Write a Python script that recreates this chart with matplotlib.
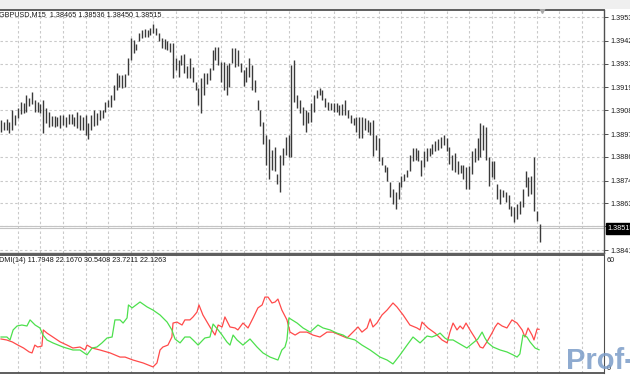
import matplotlib
matplotlib.use('Agg')
import matplotlib.pyplot as plt
import matplotlib.transforms as mtransforms
from matplotlib.patches import Rectangle
import numpy as np

plt.rcParams['font.family'] = ['Liberation Sans', 'DejaVu Sans']

# GBPUSD M15 bars (one row = one grid cell of 8 bars)
highs = [
    1.39040, 1.39030, 1.39045, 1.39030, 1.39088, 1.39064, 1.39098, 1.39126,
    1.39122, 1.39160, 1.39146, 1.39174, 1.39136, 1.39126, 1.39117, 1.39136,
    1.39098, 1.39078, 1.39059, 1.39059, 1.39054, 1.39064, 1.39064, 1.39054,
    1.39069, 1.39069, 1.39054, 1.39078, 1.39064, 1.39054, 1.39064, 1.39025,
    1.39064, 1.39088, 1.39073, 1.39088, 1.39088, 1.39126, 1.39136, 1.39160,
    1.39208, 1.39266, 1.39256, 1.39256, 1.39261, 1.39338, 1.39434, 1.39425,
    1.39405, 1.39458, 1.39473, 1.39478, 1.39473, 1.39482, 1.39502, 1.39482,
    1.39458, 1.39434, 1.39429, 1.39420, 1.39410, 1.39410, 1.39338, 1.39328,
    1.39352, 1.39357, 1.39300, 1.39338, 1.39295, 1.39223, 1.39194, 1.39242,
    1.39266, 1.39266, 1.39290, 1.39376, 1.39391, 1.39391, 1.39319, 1.39319,
    1.39304, 1.39314, 1.39386, 1.39386, 1.39376, 1.39314, 1.39280, 1.39295,
    1.39338, 1.39304, 1.39232, 1.39136, 1.39088, 1.39030, 1.38968, 1.38944,
    1.38895, 1.38910, 1.38775, 1.38871, 1.38905, 1.38958, 1.38968, 1.39304,
    1.39328, 1.39160, 1.39136, 1.39102, 1.39088, 1.39078, 1.39122, 1.39160,
    1.39184, 1.39194, 1.39184, 1.39146, 1.39126, 1.39122, 1.39122, 1.39122,
    1.39112, 1.39117, 1.39136, 1.39088, 1.39064, 1.39049, 1.39054, 1.39054,
    1.39054, 1.39049, 1.39040, 1.39030, 1.39040, 1.38968, 1.38953, 1.38857,
    1.38819, 1.38809, 1.38737, 1.38703, 1.38689, 1.38737, 1.38770, 1.38775,
    1.38799, 1.38871, 1.38905, 1.38905, 1.38895, 1.38847, 1.38886, 1.38905,
    1.38905, 1.38920, 1.38939, 1.38948, 1.38958, 1.38968, 1.38953, 1.38910,
    1.38867, 1.38881, 1.38838, 1.38823, 1.38819, 1.38809, 1.38814, 1.38886,
    1.38905, 1.38953, 1.39025, 1.39016, 1.39006, 1.38857, 1.38838, 1.38838,
    1.38727, 1.38703, 1.38698, 1.38689, 1.38674, 1.38621, 1.38617, 1.38631,
    1.38645, 1.38703, 1.38790, 1.38761, 1.38770, 1.38857, 1.38597, 1.38536,
]
lows = [
    1.38982, 1.38992, 1.38992, 1.38977, 1.38992, 1.39016, 1.39049, 1.39069,
    1.39073, 1.39078, 1.39107, 1.39117, 1.39078, 1.39078, 1.39073, 1.38977,
    1.39025, 1.39006, 1.39011, 1.39006, 1.39011, 1.39001, 1.39016, 1.39006,
    1.39021, 1.39021, 1.39011, 1.39001, 1.38992, 1.38992, 1.38968, 1.38944,
    1.38992, 1.39011, 1.39016, 1.39040, 1.39049, 1.39078, 1.39102, 1.39102,
    1.39136, 1.39184, 1.39199, 1.39194, 1.39199, 1.39256, 1.39328, 1.39362,
    1.39376, 1.39420, 1.39434, 1.39439, 1.39439, 1.39449, 1.39458, 1.39449,
    1.39420, 1.39386, 1.39381, 1.39376, 1.39367, 1.39242, 1.39280, 1.39247,
    1.39304, 1.39266, 1.39242, 1.39242, 1.39223, 1.39184, 1.39112, 1.39073,
    1.39160, 1.39213, 1.39232, 1.39280, 1.39328, 1.39304, 1.39223, 1.39184,
    1.39160, 1.39199, 1.39314, 1.39295, 1.39300, 1.39271, 1.39203, 1.39223,
    1.39247, 1.39184, 1.39174, 1.39088, 1.39011, 1.38920, 1.38823, 1.38751,
    1.38799, 1.38790, 1.38727, 1.38689, 1.38823, 1.38871, 1.38857, 1.38857,
    1.39126, 1.39098, 1.39073, 1.39016, 1.38982, 1.39025, 1.39030, 1.39078,
    1.39146, 1.39160, 1.39136, 1.39102, 1.39088, 1.39088, 1.39078, 1.39078,
    1.39064, 1.39064, 1.39064, 1.39049, 1.39025, 1.39016, 1.38982, 1.38953,
    1.38953, 1.38992, 1.38982, 1.38968, 1.38862, 1.38895, 1.38838, 1.38823,
    1.38785, 1.38742, 1.38665, 1.38631, 1.38607, 1.38655, 1.38713, 1.38742,
    1.38761, 1.38790, 1.38838, 1.38847, 1.38838, 1.38766, 1.38809, 1.38838,
    1.38862, 1.38876, 1.38886, 1.38895, 1.38905, 1.38915, 1.38886, 1.38828,
    1.38799, 1.38785, 1.38775, 1.38780, 1.38751, 1.38703, 1.38703, 1.38775,
    1.38833, 1.38847, 1.38857, 1.38895, 1.38847, 1.38718, 1.38761, 1.38751,
    1.38655, 1.38631, 1.38665, 1.38641, 1.38607, 1.38573, 1.38544, 1.38559,
    1.38583, 1.38617, 1.38713, 1.38669, 1.38679, 1.38597, 1.38549, 1.38450,
]

price_ticks = [1.39535, 1.39420, 1.39310, 1.39195, 1.39085, 1.38970,
               1.38860, 1.38745, 1.38635, 1.38525, 1.38410]
price_labels = ['1.39535', '1.39420', '1.39310', '1.39195', '1.39085', '1.38970',
                '1.38860', '1.38745', '1.38635', '', '1.38410']
bid = 1.38515
header = 'GBPUSD,M15  1.38465 1.38536 1.38450 1.38515'
dmi_header = 'DMI(14) 11.7948 22.1670 30.5408 23.7211 22.1263'

# DMI lines as (bar, value) vertices
plus_di = [
    (0, 18.3), (2.1, 18.3), (3.2, 16.8), (4.3, 21.9), (5.7, 23.9), (7.4, 24.4),
    (9.2, 23.9), (10.3, 27.0), (12.1, 24.4), (13.8, 22.9), (14.9, 19.3), (16.3, 16.8),
    (18.4, 15.3), (22, 13.2), (25.5, 11.7), (28, 11.7), (30.5, 9.2), (32.3, 12.7),
    (34, 13.2), (35.8, 15.3), (37.6, 17.8), (39.4, 18.3), (40.4, 27.0), (42.2, 27.0),
    (43.3, 25.4), (44.7, 28.0), (45.2, 34.6), (46.5, 33.1), (49.3, 36.1), (51.8, 33.6),
    (53.9, 32.0), (56.4, 29.5), (58.9, 25.9), (60.6, 21.9), (61.7, 17.3), (63.5, 15.3),
    (65.2, 18.3), (67, 18.3), (68.1, 16.8), (69.9, 14.2), (71.6, 16.8), (72.3, 17.8),
    (74.1, 18.3), (75.2, 24.9), (77, 21.9), (78.4, 19.3), (80.1, 15.8), (81.2, 14.2),
    (82.3, 19.3), (83.7, 16.8), (85.8, 14.2), (88.3, 17.3), (90.8, 13.2), (92.9, 10.2),
    (95.4, 8.1), (98.2, 6.6), (99.6, 11.7), (100.7, 13.2), (101.4, 16.8), (102.1, 28.0),
    (105, 25.4), (107.1, 22.9), (109.6, 20.8), (112.4, 24.4), (114.2, 22.9), (116.7, 21.9),
    (119.1, 20.3), (121.3, 19.3), (123, 17.8), (125.5, 16.8), (128, 14.2), (130.9, 11.7),
    (134.4, 8.1), (136.9, 6.6), (139, 4.6), (141.5, 9.2), (144, 14.2), (146.1, 18.3),
    (148.6, 15.3), (151.1, 18.8), (152.8, 18.3), (154.6, 19.3), (155.7, 20.3), (157.4, 17.8),
    (158.5, 16.8), (160.3, 16.8), (162.8, 14.7), (165.2, 12.7), (167.4, 15.3), (169.1, 17.3),
    (170.6, 20.8), (171.6, 17.8), (172.7, 15.3), (174.5, 13.2), (177, 11.7), (179.4, 10.7),
    (181.6, 9.2), (183, 8.1), (184, 9.7), (185.1, 19.3), (186.5, 18.3), (187.6, 15.8),
    (189.4, 12.7), (190.8, 11.8),
]
minus_di = [
    (0, 17.3), (2, 16.8), (4, 15.8), (6, 14.2), (8, 12.7), (10, 10.7), (11, 10.2),
    (12, 14.2), (13, 13.2), (14.5, 13.7), (15, 21.9), (16.3, 20.3), (18.4, 18.3),
    (21, 15.8), (23.4, 14.2), (25.5, 12.7), (28, 13.2), (29.8, 11.7), (30.5, 14.2),
    (32.3, 12.7), (35.1, 11.7), (38.7, 10.2), (42.2, 8.1), (44, 8.1), (46.8, 6.6),
    (50.4, 5.1), (53.9, 3.1), (55.3, 5.1), (56.4, 11.7), (57.4, 13.2), (59.2, 14.2),
    (60.6, 18.3), (61, 25.4), (62.4, 25.9), (64.2, 24.4), (65.2, 27.0), (67, 27.0),
    (68.1, 28.5), (69.5, 31.0), (70.2, 34.6), (71.6, 29.5), (74.1, 23.4), (75.9, 19.3),
    (77, 24.4), (78.4, 23.4), (79.4, 28.5), (81.2, 23.4), (83, 22.9), (84, 21.9),
    (85.8, 25.4), (87.6, 22.9), (89.4, 28.0), (91.1, 33.1), (92.6, 34.6), (93.6, 38.6),
    (94.7, 38.6), (96.1, 35.6), (97.2, 36.1), (98.2, 37.6), (99.6, 32.0), (101.4, 27.0),
    (102.5, 20.8), (104.3, 19.3), (106, 20.8), (108.5, 20.8), (110.6, 19.3), (113.1, 18.3),
    (115.6, 20.8), (117.7, 20.8), (120.2, 19.3), (122.7, 17.8), (124.8, 20.8), (126.6, 23.4),
    (128, 20.8), (129.8, 22.9), (130.9, 27.5), (131.9, 23.4), (133.3, 25.4), (135.1, 29.5),
    (136.9, 32.0), (139, 35.6), (140.4, 33.6), (142.6, 29.5), (145, 24.4), (147.5, 22.9),
    (148.6, 21.9), (149.3, 25.9), (151.4, 22.9), (153.9, 20.3), (156.4, 16.8), (158.2, 15.3),
    (159.2, 20.8), (160.3, 25.4), (161.7, 21.9), (162.8, 23.9), (163.8, 22.4), (164.9, 25.4),
    (166.3, 21.9), (168.1, 17.8), (169.9, 13.2), (170.9, 12.7), (172.3, 15.8), (174.1, 20.3),
    (175.2, 23.4), (176.2, 25.4), (177.7, 23.9), (179.4, 22.9), (181.2, 27.0), (183, 25.4),
    (184.8, 21.9), (185.8, 18.3), (186.9, 22.9), (188.3, 19.3), (189, 16.8), (190.1, 22.4),
    (190.8, 22.2),
]

W, H = 630, 380
fig = plt.figure(figsize=(6.3, 3.8), dpi=100)
fig.patch.set_facecolor('white')


def fx(px):
    return px / W


def fy(py):
    return 1 - py / H


ax = fig.add_axes([0, fy(253), fx(604), (253 - 10) / H])
ax2 = fig.add_axes([0, fy(373), fx(604), (373 - 255) / H])

xmin, xmax = -0.355, 213.83
grid_kw = dict(color='#c9c9c9', lw=0.8, ls=(0, (2.2, 2.2)), zorder=0)

# price pane
bars = np.arange(len(highs))
ax.vlines(bars, lows, highs, color='#3a3a3a', lw=1.0, zorder=3)
ax.set_xlim(xmin, xmax)
ax.set_ylim(1.38396, 1.39569)
for g in range(6, 214, 8):
    ax.axvline(g, **grid_kw)
    ax2.axvline(g, **grid_kw)
for v in price_ticks:
    ax.axhline(v, **grid_kw)
ax.axhline(price_ticks[-2], color='#c4c4c4', lw=0.8, zorder=1)
ax.axhline(bid, color='#c4c4c4', lw=0.8, zorder=1)

ax.set_xticks([])
ax.yaxis.tick_right()
ax.set_yticks(price_ticks)
ax.set_yticklabels(price_labels, fontsize=5.2, color='#1a1a1a')
ax.tick_params(axis='y', length=3, width=0.6, pad=1.5, color='#333333')
ax.spines['left'].set_visible(False)
ax.spines['top'].set_color('#505050')
ax.spines['top'].set_linewidth(1.3)
ax.spines['right'].set_color('#505050')
ax.spines['right'].set_linewidth(1.0)
ax.spines['bottom'].set_color('#606060')
ax.spines['bottom'].set_linewidth(1.0)

trans = mtransforms.blended_transform_factory(ax.transAxes, ax.transData)
ax.text(1.006, bid, '1.38515', transform=trans, fontsize=5.2, color='white',
        va='center', ha='left',
        bbox=dict(boxstyle='square,pad=0.25', fc='black', ec='black'))
ax.plot([191.8], [1.39569], marker='v', ms=4, color='#a8a8a8', clip_on=False, zorder=5)

# DMI pane
px, pv = zip(*plus_di)
mx, mv = zip(*minus_di)
ax2.plot(mx, mv, color='#ff4a4a', lw=0.9, zorder=3)
ax2.plot(px, pv, color='#4de04d', lw=0.9, zorder=3)
ax2.set_xlim(xmin, xmax)
ax2.set_ylim(0, 60)
ax2.set_xticks([])
ax2.set_yticks([])
ax2.spines['left'].set_visible(False)
for s in ['top', 'bottom']:
    ax2.spines[s].set_color('#505050')
    ax2.spines[s].set_linewidth(1.3)
ax2.spines['right'].set_color('#505050')

# frame and labels
fig.patches.append(Rectangle((0, fy(9)), 1, 9 / H, transform=fig.transFigure,
                             fc='#efefef', ec='none', zorder=0))
fig.text(fx(-1), fy(15), header, fontsize=5.2, va='center', ha='left', color='#1a1a1a')
fig.text(fx(-1), fy(261), dmi_header, fontsize=5.2, va='center', ha='left', color='#1a1a1a')
fig.text(fx(607), fy(260), '60', fontsize=5.2, va='center', ha='left', color='#1a1a1a')
fig.text(fx(607), fy(369), '0', fontsize=5.2, va='center', ha='left', color='#1a1a1a')
fig.text(fx(566), fy(361), 'Prof-FX', fontsize=21, fontweight='bold', va='center',
         ha='left', color='#7c9dc8', alpha=0.85)

fig.savefig('out.png', dpi=100)
